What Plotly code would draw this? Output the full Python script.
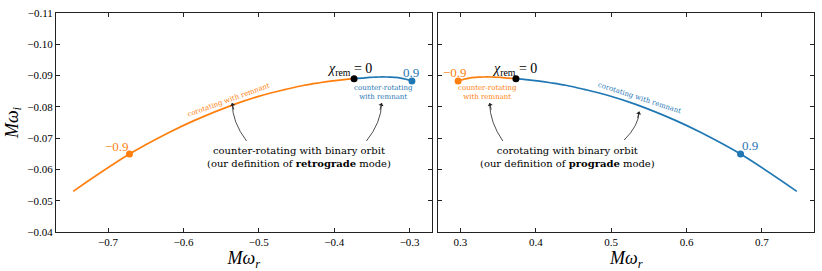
import plotly.graph_objects as go

# Kerr l=m=2, n=0 QNM frequencies
spin_pro = [0.0, 0.1, 0.2, 0.3, 0.4, 0.5, 0.6, 0.7, 0.8, 0.85, 0.9, 0.95]
wr_pro = [0.3737, 0.3870, 0.4021, 0.4195, 0.4398, 0.4641, 0.4940, 0.5326, 0.5860, 0.6198, 0.6716, 0.7462]
wi_pro = [0.0890, 0.0887, 0.0883, 0.0877, 0.0869, 0.0856, 0.0838, 0.0808, 0.0756, 0.0717, 0.0649, 0.0530]

spin_ret = [0.0, 0.1, 0.2, 0.3, 0.4, 0.5, 0.6, 0.7, 0.8, 0.9]
wr_ret = [0.3737, 0.3633, 0.3536, 0.3445, 0.3358, 0.3275, 0.3195, 0.3118, 0.3043, 0.2970]
wi_ret = [0.0890, 0.0892, 0.0894, 0.0895, 0.0896, 0.0895, 0.0894, 0.0892, 0.0888, 0.0883]

marked_spin = 0.9
x_ticks_left = [-0.7, -0.6, -0.5, -0.4, -0.3]
x_ticks_right = [0.3, 0.4, 0.5, 0.6, 0.7]
y_ticks = [-0.11, -0.10, -0.09, -0.08, -0.07, -0.06, -0.05, -0.04]

ORANGE = "#ff7f0e"
BLUE = "#1f77b4"
FONT = "Liberation Serif, DejaVu Serif, serif"
FONT2 = "DejaVu Serif, serif"

ip = spin_pro.index(marked_spin)
ir = spin_ret.index(marked_spin)

fig = go.Figure()

def line(x, y, color, xa, ya):
    fig.add_trace(go.Scatter(x=x, y=y, mode="lines", line=dict(color=color, width=1.7, shape="spline"),
                             xaxis=xa, yaxis=ya, showlegend=False, hoverinfo="skip"))

def dot(x, y, color, xa, ya):
    fig.add_trace(go.Scatter(x=[x], y=[y], mode="markers", marker=dict(color=color, size=7),
                             xaxis=xa, yaxis=ya, showlegend=False, hoverinfo="skip"))

# Left panel: negative-frequency branch
line([-v for v in wr_pro], [-v for v in wi_pro], ORANGE, "x", "y")
line([-v for v in wr_ret], [-v for v in wi_ret], BLUE, "x", "y")
dot(-wr_pro[ip], -wi_pro[ip], ORANGE, "x", "y")
dot(-wr_ret[ir], -wi_ret[ir], BLUE, "x", "y")
dot(-wr_pro[0], -wi_pro[0], "black", "x", "y")

# Right panel: positive-frequency branch
line(wr_ret, [-v for v in wi_ret], ORANGE, "x2", "y2")
line(wr_pro, [-v for v in wi_pro], BLUE, "x2", "y2")
dot(wr_ret[ir], -wi_ret[ir], ORANGE, "x2", "y2")
dot(wr_pro[ip], -wi_pro[ip], BLUE, "x2", "y2")
dot(wr_pro[0], -wi_pro[0], "black", "x2", "y2")

axis_common = dict(showline=True, linecolor="#222", linewidth=1, mirror="ticks", ticks="inside",
                   ticklen=4, tickwidth=0.8, tickcolor="#222", showgrid=False, zeroline=False,
                   tickfont=dict(family=FONT, size=11, color="black"))

ann = []
def text(x, y, s, size, color="black", xref="x", yref="y", angle=0, family=FONT):
    ann.append(dict(x=x, y=y, xref=xref, yref=yref, text=s, showarrow=False, textangle=angle,
                    font=dict(family=family, size=size, color=color), xanchor="center", yanchor="middle"))

chi = "<i>χ</i><sub>rem</sub> = 0"
big_left = "counter-rotating with binary orbit<br>(our definition of <b>retrograde</b> mode)"
big_right = "corotating with binary orbit<br>(our definition of <b>prograde</b> mode)"
small_counter = "counter-rotating<br>with remnant"
small_co = "corotating with remnant"
# left
text(-0.3795, -0.0919, chi, 14)
text(-0.2987, -0.0911, "0.9", 13, BLUE)
text(-0.3348, -0.0847, small_counter, 7, BLUE, family=FONT2)
text(-0.5397, -0.0823, small_co, 7, ORANGE, angle=-20, family=FONT2)
text(-0.6887, -0.0673, "−0.9", 13, ORANGE)
text(-0.447, -0.0639, big_left, 10, family=FONT2)
# right
text(0.2925, -0.0911, "−0.9", 13, ORANGE, "x2", "y2")
text(0.3718, -0.0919, chi, 14, "black", "x2", "y2")
text(0.3357, -0.0847, small_counter, 7, ORANGE, "x2", "y2", family=FONT2)
text(0.5372, -0.0827, small_co, 7, BLUE, "x2", "y2", angle=18, family=FONT2)
text(0.6836, -0.0675, "0.9", 13, BLUE, "x2", "y2")
text(0.4426, -0.0639, big_right, 10, "black", "x2", "y2", family=FONT2)

# curved arrows: (tail, control, head, axis)
arrows = [
    ((-0.5163, -0.0691), (-0.5351, -0.0750), (-0.5354, -0.0812), "x", "y"),
    ((-0.3573, -0.0691), (-0.3376, -0.0750), (-0.3371, -0.0812), "x", "y"),
    ((0.3563, -0.0691), (0.3392, -0.0750), (0.3388, -0.0812), "x2", "y2"),
    ((0.5173, -0.0694), (0.5365, -0.0740), (0.5372, -0.0785), "x2", "y2"),
]
shapes = []
for t, c, h, xa, ya in arrows:
    shapes.append(dict(type="path", xref=xa, yref=ya,
                       path=f"M {t[0]},{t[1]} Q {c[0]},{c[1]} {h[0]},{h[1]}",
                       line=dict(color="#222", width=0.8)))
    dx = (c[0] - h[0]) * 755 * 40
    ann.append(dict(x=h[0], y=h[1], xref=xa, yref=ya, text="", showarrow=True,
                    ax=max(min(dx, 2), -2), ay=8, arrowhead=1, arrowsize=1.1, arrowwidth=0.8,
                    arrowcolor="#222", standoff=0))

title_font = dict(family=FONT, size=18, color="black")
fig.update_layout(
    width=822, height=271,
    margin=dict(l=56, r=7, t=10, b=39),
    paper_bgcolor="white", plot_bgcolor="white",
    xaxis=dict(domain=[0, 0.4954], range=[-0.769, -0.271], tickvals=x_ticks_left, tickformat=".1f",
               title=dict(text="<i>Mω</i><sub><i>r</i></sub>", font=title_font, standoff=2), **axis_common),
    yaxis=dict(range=[-0.04, -0.11], tickvals=y_ticks, tickformat=".2f",
               title=dict(text="<i>Mω</i><sub><i>i</i></sub>", font=title_font, standoff=4), **axis_common),
    xaxis2=dict(domain=[0.5046, 1], range=[0.271, 0.769], tickvals=x_ticks_right, tickformat=".1f",
                anchor="y2",
                title=dict(text="<i>Mω</i><sub><i>r</i></sub>", font=title_font, standoff=2), **axis_common),
    yaxis2=dict(range=[-0.04, -0.11], tickvals=y_ticks, showticklabels=False, anchor="x2", **axis_common),
    annotations=ann, shapes=shapes,
)

fig.write_html("out.html", config={"displayModeBar": False},
               post_script="document.body.style.margin='0';")
